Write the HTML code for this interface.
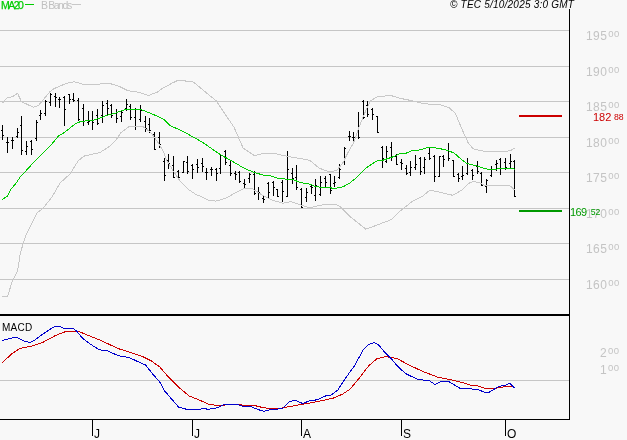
<!DOCTYPE html>
<html><head><meta charset="utf-8"><title>chart</title>
<style>
html,body{margin:0;padding:0;background:#f8f8f8;}
body{width:627px;height:440px;position:relative;overflow:hidden;font-family:"Liberation Sans",sans-serif;}
.pl{position:absolute;font-size:12px;line-height:12px;white-space:nowrap;}
.sup{font-size:9.5px;position:relative;top:-3px;margin-left:0.8px;letter-spacing:0.6px;}
.sup2{font-size:8.7px;position:relative;top:-1.5px;margin-left:2.6px;letter-spacing:0}
.mo{position:absolute;top:428px;font-size:12px;line-height:12px;color:#000;}
.t{position:absolute;white-space:nowrap;}
.t,.pl,.mo{will-change:transform;}
</style></head><body>
<svg width="627" height="440" viewBox="0 0 627 440" style="position:absolute;left:0;top:0">
<rect width="627" height="440" fill="#f8f8f8"/>
<g shape-rendering="crispEdges">
<rect x="0" y="30" width="569" height="1" fill="#c6c6c6"/>
<rect x="0" y="66" width="569" height="1" fill="#c6c6c6"/>
<rect x="0" y="101" width="569" height="1" fill="#c6c6c6"/>
<rect x="0" y="137" width="569" height="1" fill="#c6c6c6"/>
<rect x="0" y="172" width="569" height="1" fill="#c6c6c6"/>
<rect x="0" y="208" width="569" height="1" fill="#c6c6c6"/>
<rect x="0" y="243" width="569" height="1" fill="#c6c6c6"/>
<rect x="0" y="279" width="569" height="1" fill="#c6c6c6"/>
<rect x="0" y="380" width="569" height="1" fill="#c6c6c6"/>
</g>
<g shape-rendering="crispEdges">
<rect x="519" y="115" width="43" height="2" fill="#cc0000"/>
<rect x="519" y="210" width="43" height="2" fill="#009900"/>
</g>
<g shape-rendering="crispEdges" fill="#000">
<rect x="2" y="125" width="1" height="15"/>
<rect x="1" y="130" width="1" height="1"/>
<rect x="3" y="135" width="1" height="1"/>
<rect x="7" y="137" width="1" height="16"/>
<rect x="6" y="142" width="1" height="1"/>
<rect x="8" y="142" width="1" height="1"/>
<rect x="12" y="137" width="1" height="12"/>
<rect x="11" y="140" width="1" height="1"/>
<rect x="13" y="140" width="1" height="1"/>
<rect x="17" y="128" width="1" height="10"/>
<rect x="16" y="136" width="1" height="1"/>
<rect x="18" y="132" width="1" height="1"/>
<rect x="21" y="116" width="1" height="39"/>
<rect x="20" y="125" width="1" height="1"/>
<rect x="22" y="150" width="1" height="1"/>
<rect x="26" y="141" width="1" height="14"/>
<rect x="25" y="151" width="1" height="1"/>
<rect x="27" y="146" width="1" height="1"/>
<rect x="31" y="140" width="1" height="15"/>
<rect x="30" y="141" width="1" height="1"/>
<rect x="32" y="149" width="1" height="1"/>
<rect x="36" y="120" width="1" height="21"/>
<rect x="35" y="138" width="1" height="1"/>
<rect x="37" y="122" width="1" height="1"/>
<rect x="40" y="110" width="1" height="10"/>
<rect x="39" y="115" width="1" height="1"/>
<rect x="41" y="113" width="1" height="1"/>
<rect x="45" y="100" width="1" height="16"/>
<rect x="44" y="113" width="1" height="1"/>
<rect x="46" y="101" width="1" height="1"/>
<rect x="50" y="93" width="1" height="13"/>
<rect x="49" y="102" width="1" height="1"/>
<rect x="51" y="94" width="1" height="1"/>
<rect x="55" y="93" width="1" height="14"/>
<rect x="54" y="96" width="1" height="1"/>
<rect x="56" y="97" width="1" height="1"/>
<rect x="59" y="97" width="1" height="11"/>
<rect x="58" y="99" width="1" height="1"/>
<rect x="60" y="99" width="1" height="1"/>
<rect x="64" y="96" width="1" height="30"/>
<rect x="63" y="97" width="1" height="1"/>
<rect x="65" y="109" width="1" height="1"/>
<rect x="69" y="94" width="1" height="10"/>
<rect x="68" y="94" width="1" height="1"/>
<rect x="70" y="99" width="1" height="1"/>
<rect x="73" y="93" width="1" height="9"/>
<rect x="72" y="99" width="1" height="1"/>
<rect x="74" y="100" width="1" height="1"/>
<rect x="78" y="98" width="1" height="23"/>
<rect x="77" y="100" width="1" height="1"/>
<rect x="79" y="119" width="1" height="1"/>
<rect x="83" y="104" width="1" height="22"/>
<rect x="82" y="108" width="1" height="1"/>
<rect x="84" y="121" width="1" height="1"/>
<rect x="88" y="111" width="1" height="14"/>
<rect x="87" y="122" width="1" height="1"/>
<rect x="89" y="121" width="1" height="1"/>
<rect x="92" y="111" width="1" height="19"/>
<rect x="91" y="120" width="1" height="1"/>
<rect x="93" y="122" width="1" height="1"/>
<rect x="97" y="109" width="1" height="16"/>
<rect x="96" y="115" width="1" height="1"/>
<rect x="98" y="123" width="1" height="1"/>
<rect x="102" y="101" width="1" height="22"/>
<rect x="101" y="115" width="1" height="1"/>
<rect x="103" y="105" width="1" height="1"/>
<rect x="107" y="100" width="1" height="15"/>
<rect x="106" y="103" width="1" height="1"/>
<rect x="108" y="108" width="1" height="1"/>
<rect x="111" y="104" width="1" height="14"/>
<rect x="110" y="105" width="1" height="1"/>
<rect x="112" y="115" width="1" height="1"/>
<rect x="116" y="109" width="1" height="14"/>
<rect x="115" y="113" width="1" height="1"/>
<rect x="117" y="118" width="1" height="1"/>
<rect x="121" y="110" width="1" height="12"/>
<rect x="120" y="116" width="1" height="1"/>
<rect x="122" y="112" width="1" height="1"/>
<rect x="126" y="99" width="1" height="12"/>
<rect x="125" y="108" width="1" height="1"/>
<rect x="127" y="104" width="1" height="1"/>
<rect x="130" y="104" width="1" height="16"/>
<rect x="129" y="106" width="1" height="1"/>
<rect x="131" y="117" width="1" height="1"/>
<rect x="135" y="108" width="1" height="22"/>
<rect x="134" y="117" width="1" height="1"/>
<rect x="136" y="126" width="1" height="1"/>
<rect x="140" y="105" width="1" height="17"/>
<rect x="139" y="119" width="1" height="1"/>
<rect x="141" y="110" width="1" height="1"/>
<rect x="145" y="116" width="1" height="16"/>
<rect x="144" y="121" width="1" height="1"/>
<rect x="146" y="128" width="1" height="1"/>
<rect x="149" y="118" width="1" height="15"/>
<rect x="148" y="124" width="1" height="1"/>
<rect x="150" y="130" width="1" height="1"/>
<rect x="154" y="132" width="1" height="18"/>
<rect x="153" y="134" width="1" height="1"/>
<rect x="155" y="149" width="1" height="1"/>
<rect x="159" y="132" width="1" height="16"/>
<rect x="158" y="137" width="1" height="1"/>
<rect x="160" y="144" width="1" height="1"/>
<rect x="164" y="158" width="1" height="23"/>
<rect x="163" y="161" width="1" height="1"/>
<rect x="165" y="175" width="1" height="1"/>
<rect x="168" y="154" width="1" height="15"/>
<rect x="167" y="160" width="1" height="1"/>
<rect x="169" y="163" width="1" height="1"/>
<rect x="173" y="156" width="1" height="22"/>
<rect x="172" y="165" width="1" height="1"/>
<rect x="174" y="177" width="1" height="1"/>
<rect x="178" y="170" width="1" height="9"/>
<rect x="177" y="171" width="1" height="1"/>
<rect x="179" y="177" width="1" height="1"/>
<rect x="183" y="161" width="1" height="12"/>
<rect x="182" y="172" width="1" height="1"/>
<rect x="184" y="161" width="1" height="1"/>
<rect x="187" y="156" width="1" height="18"/>
<rect x="186" y="162" width="1" height="1"/>
<rect x="188" y="171" width="1" height="1"/>
<rect x="192" y="164" width="1" height="15"/>
<rect x="191" y="165" width="1" height="1"/>
<rect x="193" y="169" width="1" height="1"/>
<rect x="197" y="159" width="1" height="14"/>
<rect x="196" y="164" width="1" height="1"/>
<rect x="198" y="167" width="1" height="1"/>
<rect x="202" y="158" width="1" height="14"/>
<rect x="201" y="163" width="1" height="1"/>
<rect x="203" y="166" width="1" height="1"/>
<rect x="206" y="168" width="1" height="12"/>
<rect x="205" y="172" width="1" height="1"/>
<rect x="207" y="172" width="1" height="1"/>
<rect x="211" y="167" width="1" height="9"/>
<rect x="210" y="169" width="1" height="1"/>
<rect x="212" y="169" width="1" height="1"/>
<rect x="216" y="168" width="1" height="13"/>
<rect x="215" y="169" width="1" height="1"/>
<rect x="217" y="173" width="1" height="1"/>
<rect x="220" y="154" width="1" height="20"/>
<rect x="219" y="168" width="1" height="1"/>
<rect x="221" y="155" width="1" height="1"/>
<rect x="225" y="150" width="1" height="15"/>
<rect x="224" y="151" width="1" height="1"/>
<rect x="226" y="162" width="1" height="1"/>
<rect x="230" y="161" width="1" height="15"/>
<rect x="229" y="165" width="1" height="1"/>
<rect x="231" y="173" width="1" height="1"/>
<rect x="235" y="171" width="1" height="9"/>
<rect x="234" y="173" width="1" height="1"/>
<rect x="236" y="174" width="1" height="1"/>
<rect x="239" y="171" width="1" height="12"/>
<rect x="238" y="172" width="1" height="1"/>
<rect x="240" y="181" width="1" height="1"/>
<rect x="244" y="179" width="1" height="9"/>
<rect x="243" y="183" width="1" height="1"/>
<rect x="245" y="184" width="1" height="1"/>
<rect x="249" y="173" width="1" height="10"/>
<rect x="248" y="178" width="1" height="1"/>
<rect x="250" y="174" width="1" height="1"/>
<rect x="254" y="171" width="1" height="24"/>
<rect x="253" y="174" width="1" height="1"/>
<rect x="255" y="193" width="1" height="1"/>
<rect x="258" y="187" width="1" height="13"/>
<rect x="257" y="191" width="1" height="1"/>
<rect x="259" y="192" width="1" height="1"/>
<rect x="263" y="195" width="1" height="8"/>
<rect x="262" y="198" width="1" height="1"/>
<rect x="264" y="199" width="1" height="1"/>
<rect x="268" y="182" width="1" height="16"/>
<rect x="267" y="183" width="1" height="1"/>
<rect x="269" y="192" width="1" height="1"/>
<rect x="273" y="181" width="1" height="15"/>
<rect x="272" y="182" width="1" height="1"/>
<rect x="274" y="187" width="1" height="1"/>
<rect x="277" y="189" width="1" height="8"/>
<rect x="276" y="189" width="1" height="1"/>
<rect x="278" y="196" width="1" height="1"/>
<rect x="282" y="180" width="1" height="22"/>
<rect x="281" y="182" width="1" height="1"/>
<rect x="283" y="191" width="1" height="1"/>
<rect x="287" y="151" width="1" height="46"/>
<rect x="286" y="196" width="1" height="1"/>
<rect x="288" y="169" width="1" height="1"/>
<rect x="292" y="168" width="1" height="16"/>
<rect x="291" y="173" width="1" height="1"/>
<rect x="293" y="178" width="1" height="1"/>
<rect x="296" y="165" width="1" height="25"/>
<rect x="295" y="177" width="1" height="1"/>
<rect x="297" y="187" width="1" height="1"/>
<rect x="301" y="188" width="1" height="20"/>
<rect x="300" y="189" width="1" height="1"/>
<rect x="302" y="207" width="1" height="1"/>
<rect x="306" y="188" width="1" height="14"/>
<rect x="305" y="197" width="1" height="1"/>
<rect x="307" y="192" width="1" height="1"/>
<rect x="311" y="184" width="1" height="10"/>
<rect x="310" y="186" width="1" height="1"/>
<rect x="312" y="187" width="1" height="1"/>
<rect x="315" y="179" width="1" height="22"/>
<rect x="314" y="195" width="1" height="1"/>
<rect x="316" y="185" width="1" height="1"/>
<rect x="320" y="176" width="1" height="20"/>
<rect x="319" y="194" width="1" height="1"/>
<rect x="321" y="182" width="1" height="1"/>
<rect x="325" y="176" width="1" height="11"/>
<rect x="324" y="178" width="1" height="1"/>
<rect x="326" y="182" width="1" height="1"/>
<rect x="330" y="174" width="1" height="20"/>
<rect x="329" y="174" width="1" height="1"/>
<rect x="331" y="190" width="1" height="1"/>
<rect x="334" y="176" width="1" height="11"/>
<rect x="333" y="183" width="1" height="1"/>
<rect x="335" y="182" width="1" height="1"/>
<rect x="339" y="164" width="1" height="15"/>
<rect x="338" y="177" width="1" height="1"/>
<rect x="340" y="169" width="1" height="1"/>
<rect x="344" y="147" width="1" height="18"/>
<rect x="343" y="161" width="1" height="1"/>
<rect x="345" y="148" width="1" height="1"/>
<rect x="349" y="131" width="1" height="10"/>
<rect x="348" y="136" width="1" height="1"/>
<rect x="350" y="136" width="1" height="1"/>
<rect x="353" y="132" width="1" height="9"/>
<rect x="352" y="137" width="1" height="1"/>
<rect x="354" y="137" width="1" height="1"/>
<rect x="358" y="112" width="1" height="27"/>
<rect x="357" y="131" width="1" height="1"/>
<rect x="359" y="137" width="1" height="1"/>
<rect x="363" y="100" width="1" height="19"/>
<rect x="362" y="101" width="1" height="1"/>
<rect x="364" y="117" width="1" height="1"/>
<rect x="367" y="101" width="1" height="16"/>
<rect x="366" y="105" width="1" height="1"/>
<rect x="368" y="114" width="1" height="1"/>
<rect x="372" y="108" width="1" height="12"/>
<rect x="371" y="109" width="1" height="1"/>
<rect x="373" y="114" width="1" height="1"/>
<rect x="377" y="116" width="1" height="17"/>
<rect x="376" y="116" width="1" height="1"/>
<rect x="378" y="132" width="1" height="1"/>
<rect x="382" y="146" width="1" height="22"/>
<rect x="381" y="147" width="1" height="1"/>
<rect x="383" y="158" width="1" height="1"/>
<rect x="386" y="146" width="1" height="17"/>
<rect x="385" y="161" width="1" height="1"/>
<rect x="387" y="151" width="1" height="1"/>
<rect x="391" y="142" width="1" height="19"/>
<rect x="390" y="147" width="1" height="1"/>
<rect x="392" y="156" width="1" height="1"/>
<rect x="396" y="154" width="1" height="11"/>
<rect x="395" y="156" width="1" height="1"/>
<rect x="397" y="164" width="1" height="1"/>
<rect x="401" y="159" width="1" height="11"/>
<rect x="400" y="162" width="1" height="1"/>
<rect x="402" y="163" width="1" height="1"/>
<rect x="406" y="165" width="1" height="10"/>
<rect x="405" y="168" width="1" height="1"/>
<rect x="407" y="173" width="1" height="1"/>
<rect x="410" y="161" width="1" height="15"/>
<rect x="409" y="172" width="1" height="1"/>
<rect x="411" y="167" width="1" height="1"/>
<rect x="415" y="155" width="1" height="15"/>
<rect x="414" y="167" width="1" height="1"/>
<rect x="416" y="164" width="1" height="1"/>
<rect x="420" y="157" width="1" height="18"/>
<rect x="419" y="158" width="1" height="1"/>
<rect x="421" y="171" width="1" height="1"/>
<rect x="424" y="157" width="1" height="17"/>
<rect x="423" y="167" width="1" height="1"/>
<rect x="425" y="159" width="1" height="1"/>
<rect x="429" y="147" width="1" height="13"/>
<rect x="428" y="153" width="1" height="1"/>
<rect x="430" y="158" width="1" height="1"/>
<rect x="434" y="155" width="1" height="27"/>
<rect x="433" y="156" width="1" height="1"/>
<rect x="435" y="176" width="1" height="1"/>
<rect x="439" y="156" width="1" height="21"/>
<rect x="438" y="176" width="1" height="1"/>
<rect x="440" y="156" width="1" height="1"/>
<rect x="443" y="155" width="1" height="12"/>
<rect x="442" y="156" width="1" height="1"/>
<rect x="444" y="159" width="1" height="1"/>
<rect x="448" y="143" width="1" height="18"/>
<rect x="447" y="150" width="1" height="1"/>
<rect x="449" y="158" width="1" height="1"/>
<rect x="453" y="160" width="1" height="17"/>
<rect x="452" y="160" width="1" height="1"/>
<rect x="454" y="176" width="1" height="1"/>
<rect x="458" y="173" width="1" height="9"/>
<rect x="457" y="174" width="1" height="1"/>
<rect x="459" y="178" width="1" height="1"/>
<rect x="462" y="166" width="1" height="14"/>
<rect x="461" y="176" width="1" height="1"/>
<rect x="463" y="175" width="1" height="1"/>
<rect x="467" y="158" width="1" height="17"/>
<rect x="466" y="173" width="1" height="1"/>
<rect x="468" y="163" width="1" height="1"/>
<rect x="472" y="169" width="1" height="11"/>
<rect x="471" y="170" width="1" height="1"/>
<rect x="473" y="175" width="1" height="1"/>
<rect x="477" y="161" width="1" height="13"/>
<rect x="476" y="166" width="1" height="1"/>
<rect x="478" y="171" width="1" height="1"/>
<rect x="481" y="172" width="1" height="14"/>
<rect x="480" y="173" width="1" height="1"/>
<rect x="482" y="185" width="1" height="1"/>
<rect x="486" y="179" width="1" height="14"/>
<rect x="485" y="186" width="1" height="1"/>
<rect x="487" y="180" width="1" height="1"/>
<rect x="491" y="166" width="1" height="11"/>
<rect x="490" y="175" width="1" height="1"/>
<rect x="492" y="169" width="1" height="1"/>
<rect x="496" y="160" width="1" height="11"/>
<rect x="495" y="164" width="1" height="1"/>
<rect x="497" y="163" width="1" height="1"/>
<rect x="500" y="158" width="1" height="17"/>
<rect x="499" y="159" width="1" height="1"/>
<rect x="501" y="168" width="1" height="1"/>
<rect x="505" y="158" width="1" height="12"/>
<rect x="504" y="162" width="1" height="1"/>
<rect x="506" y="167" width="1" height="1"/>
<rect x="510" y="154" width="1" height="14"/>
<rect x="509" y="163" width="1" height="1"/>
<rect x="511" y="161" width="1" height="1"/>
<rect x="514" y="160" width="1" height="37"/>
<rect x="513" y="161" width="1" height="1"/>
<rect x="515" y="196" width="1" height="1"/>
</g>
<polyline points="2.4,103.3 7.2,97.8 12.8,96.6 17.5,93.3 21.5,101.7 33.5,107.3 38.3,105.7 45.5,97.0 49.8,91.9 54.2,88.6 61.2,85.5 67.0,83.3 74.0,81.7 79.0,83.0 84.2,85.0 97.0,84.2 109.7,83.5 115.0,85.0 120.0,86.8 127.6,90.6 138.3,92.2 148.6,95.4 157.4,92.2 163.8,87.4 167.9,85.5 172.0,83.2 177.5,80.5 185.0,80.5 185.6,81.5 192.6,81.5 194.0,82.5 203.6,90.6 216.3,100.8 226.5,116.1 234.2,127.6 243.1,148.0 254.6,155.7 262.3,153.6 275.0,153.6 287.8,156.5 298.0,158.2 309.6,160.2 319.1,168.1 328.7,171.8 336.7,170.5 343.1,162.5 347.8,153.0 353.4,143.2 359.0,127.3 363.8,115.3 370.2,101.0 376.6,97.0 380.0,96.6 390.2,95.3 400.4,98.4 410.6,100.4 423.4,103.7 441.2,105.0 448.9,107.6 455.3,113.2 461.7,128.5 468.0,142.5 473.1,148.9 484.6,151.4 490.0,151.6 498.0,151.9 506.0,151.3 510.5,150.7 514.6,148.0" fill="none" stroke="#c8c8c8" stroke-width="1" stroke-linejoin="round" shape-rendering="crispEdges"/>
<polyline points="2.2,296.3 7.6,296.3 12.3,281.3 17.7,270.4 20.4,252.7 25.9,235.0 36.8,213.2 43.6,207.7 52.6,196.0 59.8,183.3 70.2,173.7 78.1,161.0 83.7,156.2 100.0,152.5 109.6,146.4 116.0,140.0 120.7,132.8 128.7,126.8 143.0,126.5 151.0,132.8 157.4,141.6 163.8,152.0 166.2,159.4 173.4,171.3 179.7,180.4 187.7,188.9 195.7,194.4 200.0,196.0 208.0,200.0 216.0,201.1 225.5,198.4 236.7,192.0 244.7,188.4 252.6,188.9 263.8,196.0 273.4,200.5 283.0,203.2 290.9,201.6 300.0,204.8 309.6,208.0 317.5,205.9 325.5,204.3 335.3,204.2 340.4,206.8 350.6,217.0 365.9,229.2 376.1,225.4 391.4,219.6 399.1,211.9 411.9,201.7 422.0,196.6 429.7,190.2 439.9,192.2 452.7,195.3 461.6,190.2 468.0,183.8 473.1,181.3 480.0,183.1 486.4,186.0 499.1,185.2 510.3,186.0 514.8,190.0" fill="none" stroke="#c8c8c8" stroke-width="1" stroke-linejoin="round" shape-rendering="crispEdges"/>
<polyline points="2.2,199.5 7.2,196.4 11.2,188.9 16.0,183.3 20.7,176.1 25.5,171.3 34.3,161.7 43.0,153.0 51.0,145.0 59.0,135.5 63.8,132.8 68.0,129.7 75.9,123.3 79.5,122.0 83.8,121.1 93.4,120.3 99.7,118.2 107.7,115.0 115.6,113.1 122.0,110.5 126.3,109.2 139.9,109.2 151.0,113.4 163.8,119.3 170.2,125.7 182.9,131.3 200.0,140.8 206.4,145.0 220.7,154.9 231.9,161.0 244.7,168.6 254.2,172.4 263.8,175.3 270.2,175.8 279.7,178.8 292.5,179.3 300.0,182.5 309.6,184.1 316.0,186.8 328.7,187.7 335.1,188.4 343.1,186.8 349.4,183.3 357.4,176.9 367.0,167.3 376.6,161.0 382.9,160.2 392.5,157.0 400.0,153.6 406.4,153.1 412.8,150.4 420.7,149.9 428.7,147.2 438.3,148.3 447.8,150.4 454.2,153.1 460.6,158.7 467.0,163.5 475.0,165.4 482.9,168.0 488.0,169.3 496.0,169.3 500.7,168.2 510.3,168.2 514.8,169.3" fill="none" stroke="#00cc00" stroke-width="1.0" stroke-linejoin="round" shape-rendering="crispEdges"/>
<polyline points="2.4,362.6 11.8,353.8 20.1,348.4 30.7,346.3 42.6,342.5 54.4,336.1 63.8,332.1 70.9,331.1 79.2,331.6 89.9,336.1 101.7,340.8 118.2,348.6 128.9,351.9 141.8,356.2 151.3,360.9 159.6,366.8 167.8,376.3 179.7,388.1 189.1,395.9 200.9,400.7 208.0,404.0 218.7,405.9 229.3,404.4 238.8,404.2 245.9,405.9 254.1,405.4 262.4,407.5 267.1,408.2 281.3,408.2 293.1,405.9 307.3,403.5 321.5,400.7 333.3,398.1 342.8,394.0 349.9,389.3 359.3,378.0 368.8,365.7 377.0,358.6 385.3,356.7 392.4,357.6 397.1,358.6 408.9,364.9 423.1,371.6 437.3,377.0 449.1,379.4 460.9,382.2 470.4,385.0 477.5,385.8 484.6,388.1 494.0,388.6 503.5,386.9 510.6,386.2 514.6,387.4" fill="none" stroke="#cc0000" stroke-width="1" stroke-linejoin="round" shape-rendering="crispEdges"/>
<polyline points="2.4,340.4 9.5,338.5 16.6,337.3 23.6,340.8 30.3,342.5 35.5,339.6 44.9,332.6 54.4,326.6 59.1,326.2 63.8,328.3 73.3,328.3 76.9,331.4 82.8,338.5 89.9,343.9 99.3,349.8 107.6,350.8 118.2,355.7 128.9,357.4 140.0,362.6 145.4,364.9 153.6,375.1 159.6,381.7 164.3,390.5 171.4,398.8 178.5,407.0 186.8,409.4 199.8,409.4 203.3,408.2 208.0,409.4 217.5,407.7 224.6,404.0 236.4,404.0 243.5,406.6 250.6,406.6 257.7,409.4 263.6,411.3 271.8,409.4 282.5,408.7 289.6,401.6 295.5,400.2 302.6,403.5 310.8,400.4 316.8,399.9 326.2,395.7 330.9,395.2 338.0,389.8 345.1,378.7 354.6,365.7 362.9,350.3 368.8,344.4 374.0,342.5 378.2,344.4 383.0,350.3 390.1,357.4 397.1,365.7 405.4,373.5 418.4,379.8 429.0,380.3 434.9,384.6 442.0,381.0 447.9,381.0 459.8,388.1 470.4,388.8 478.7,389.8 484.6,392.4 489.3,392.1 498.8,386.5 505.9,385.0 509.9,383.4 514.6,388.1" fill="none" stroke="#0000cc" stroke-width="1" stroke-linejoin="round" shape-rendering="crispEdges"/>
<g shape-rendering="crispEdges" fill="#000">
<rect x="569" y="9" width="1" height="411"/>
<rect x="0" y="314" width="570" height="2"/>
<rect x="0" y="419" width="570" height="1"/>
<rect x="92" y="419" width="1" height="17"/>
<rect x="192" y="419" width="1" height="17"/>
<rect x="301" y="419" width="1" height="17"/>
<rect x="401" y="419" width="1" height="17"/>
<rect x="505" y="419" width="1" height="17"/>
</g>
</svg>
<div class="t" style="left:1px;top:-1px;font-size:10.5px;line-height:12px;color:#00cc00;letter-spacing:-1.5px;-webkit-text-stroke:0.25px #00cc00">MA20</div>
<div class="t" style="left:25px;top:4px;width:9px;height:1px;background:#00cc00"></div>
<div class="t" style="left:41px;top:-1px;font-size:10.5px;line-height:12px;color:#c0c0c0;letter-spacing:-1.45px">B<span style="margin-left:1.6px">Bands</span></div>
<div class="t" style="left:72px;top:4px;width:9px;height:1px;background:#c8c8c8"></div>
<div class="t" style="right:53px;top:-2px;font-size:10px;line-height:13px;font-style:italic;color:#000;letter-spacing:0.22px">© TEC 5/10/2025 3:0 GMT</div>
<div class="t" style="left:2px;top:321.6px;font-size:10px;line-height:12px;color:#000;letter-spacing:0.25px">MACD</div>
<div class="pl" style="left:586px;top:30px;color:#c4c4c4;letter-spacing:0.45px">195<span class="sup">00</span></div><div class="pl" style="left:586px;top:66px;color:#c4c4c4;letter-spacing:0.45px">190<span class="sup">00</span></div><div class="pl" style="left:586px;top:101px;color:#c4c4c4;letter-spacing:0.45px">185<span class="sup">00</span></div><div class="pl" style="left:586px;top:137px;color:#c4c4c4;letter-spacing:0.45px">180<span class="sup">00</span></div><div class="pl" style="left:586px;top:172px;color:#c4c4c4;letter-spacing:0.45px">175<span class="sup">00</span></div><div class="pl" style="left:586px;top:208px;color:#c4c4c4;letter-spacing:0.45px">170<span class="sup">00</span></div><div class="pl" style="left:586px;top:243px;color:#c4c4c4;letter-spacing:0.45px">165<span class="sup">00</span></div><div class="pl" style="left:586px;top:279px;color:#c4c4c4;letter-spacing:0.45px">160<span class="sup">00</span></div><div class="pl" style="left:600px;top:347px;color:#c4c4c4;letter-spacing:0.45px">2<span class="sup">00</span></div><div class="pl" style="left:600px;top:364px;color:#c4c4c4;letter-spacing:0.45px">1<span class="sup">00</span></div>
<div class="pl" style="left:593px;top:111px;color:#cc0000;font-size:11px">182<span class="sup2">88</span></div>
<div class="pl" style="left:570px;top:206px;color:#009900;font-size:11px;letter-spacing:-0.6px">169<span class="sup2" style="margin-left:4.2px">52</span></div>
<div class="mo" style="left:93.7px">J</div><div class="mo" style="left:193.7px">J</div><div class="mo" style="left:302.7px">A</div><div class="mo" style="left:402.7px">S</div><div class="mo" style="left:506.7px">O</div>
</body></html>
